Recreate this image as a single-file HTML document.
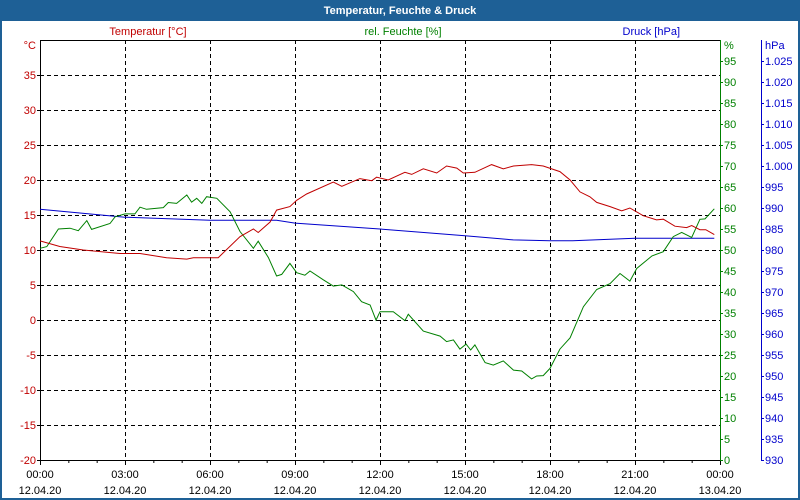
<!DOCTYPE html>
<html><head><meta charset="utf-8"><style>
html,body{margin:0;padding:0;background:#fff}
#wrap{position:relative;width:800px;height:500px;overflow:hidden;font-family:"Liberation Sans",sans-serif}
svg text{font-family:"Liberation Sans",sans-serif;font-size:11px}
</style></head><body>
<div id="wrap">
<svg id="chart" width="800" height="500"></svg>
</div>
<script>
const tempHours=[0,0.7,1.53,2.82,3.53,4.47,5.18,5.41,6.29,7.06,7.53,7.7,8.12,8.35,8.82,9.06,9.41,10.35,10.65,11.29,11.71,11.88,12.29,12.88,13.12,13.53,14,14.35,14.71,14.94,15.35,15.94,16.35,16.71,17.35,17.76,18.35,18.71,19.06,19.41,19.65,20.12,20.53,20.82,21.29,21.76,22,22.41,22.82,23,23.29,23.5,23.8];
const tempValues=[11.3,10.5,10,9.5,9.5,8.9,8.7,8.9,8.9,11.9,13,12.5,14,15.7,16.2,17.1,18,19.7,19.1,20.2,19.9,20.4,20,21.1,20.8,21.6,21,22,21.7,21,21.1,22.2,21.6,22,22.2,22,21.2,20,18.3,17.6,16.8,16.2,15.6,16,14.9,14.3,14.4,13.4,13.2,13.5,12.9,12.9,12.2];
const humHours=[0,0.24,0.65,1.06,1.35,1.65,1.82,2.47,2.65,3,3.35,3.53,3.76,4.35,4.53,4.82,5.18,5.35,5.53,5.71,5.88,6.24,6.71,7.06,7.53,7.7,8.06,8.35,8.53,8.82,9.06,9.35,9.53,10,10.35,10.65,11.06,11.35,11.65,11.86,12,12.47,12.88,13,13.53,14.12,14.35,14.59,14.82,15.04,15.2,15.35,15.71,16,16.35,16.71,17,17.35,17.53,17.76,18,18.35,18.71,19.18,19.65,20.12,20.47,20.82,21.06,21.6,22,22.35,22.65,23,23.29,23.47,23.8];
const humValues=[50.4,50.8,55,55.2,54.6,57,54.9,56.3,57.9,58.6,58.6,60.2,59.7,60.1,61.3,61.1,63.1,61.4,62.3,61.1,62.7,62.3,59.1,54.4,50.4,52.1,48.2,43.8,44.2,46.8,44.6,44,45,42.9,41.4,41.7,40.1,37.7,36.9,33.3,35.3,35.3,33.2,34.7,30.7,29.5,28.2,28.6,26.4,27.6,26.2,27.4,23.2,22.6,23.6,21.4,21.2,19.3,20,20.1,21.8,26.4,29.1,36.5,40.6,42,44.4,42.6,45.6,48.6,49.6,53.2,54.2,53,57.3,57.4,59.8];
const presHours=[0,3,6,8.35,9,12,15,16.7,18,18.8,21,23.8];
const presValues=[989.7,987.8,987.1,987.1,986.4,985,983.4,982.4,982.2,982.2,982.8,982.8];
const tempTicks=[35,30,25,20,15,10,5,0,-5,-10,-15,-20];
const humTicks=[95,90,85,80,75,70,65,60,55,50,45,40,35,30,25,20,15,10,5,0];
const presTicks=[1025,1020,1015,1010,1005,1000,995,990,985,980,975,970,965,960,955,950,945,940,935,930];
const timeLabels=["00:00","03:00","06:00","09:00","12:00","15:00","18:00","21:00","00:00"];
const dateLabels=["12.04.20","12.04.20","12.04.20","12.04.20","12.04.20","12.04.20","12.04.20","12.04.20","13.04.20"];

const L=40,R=720,T=40,B=460;
const xs=h=>L+(R-L)*h/24;
const yT=v=>B-(v+20)*(B-T)/60;
const yH=v=>B-v*(B-T)/100;
const yP=v=>B-(v-930)*(B-T)/100;
const svg=document.getElementById('chart');
const NS='http://www.w3.org/2000/svg';
function mk(tag,attrs,parent){const e=document.createElementNS(NS,tag);for(const k in attrs)e.setAttribute(k,attrs[k]);(parent||svg).appendChild(e);return e;}
function txt(x,y,s,fill,anchor,name,extra){const e=mk('text',Object.assign({x:x,y:y,fill:fill,'text-anchor':anchor||'start'},extra||{}));e.textContent=s;


return e;}

let fr=mk('rect',{x:0,y:0,width:800,height:500,fill:'#1e6096'});


let bg=mk('rect',{x:2,y:21,width:796,height:477,fill:'#fff'});


txt(400,14,'Temperatur, Feuchte & Druck','#fff','middle','chart-title',{'font-weight':'bold','font-size':'12.5px'});

for(let i=1;i<8;i++){let g=mk('line',{x1:xs(i*3)+.5,x2:xs(i*3)+.5,y1:T,y2:B,stroke:'#000','stroke-dasharray':'4,3'});

}
tempTicks.forEach(v=>{if(v>-20){let g=mk('line',{x1:L,x2:R,y1:Math.round(yT(v))+.5,y2:Math.round(yT(v))+.5,stroke:'#000','stroke-dasharray':'4,3'});

}});

let ax=mk('path',{d:`M${L+.5} ${T} V${B+.5} H${R} M${L} ${T+.5} H${R}`,stroke:'#000',fill:'none'});


for(let h=0;h<=24;h++){let t=mk('line',{x1:xs(h)+.5,x2:xs(h)+.5,y1:B,y2:B+(h%3?3:5),stroke:'#000'});

}
let ga=mk('line',{x1:R+.5,x2:R+.5,y1:T,y2:B+1,stroke:'#008000'});


let ba=mk('line',{x1:761.5,x2:761.5,y1:T,y2:B+1,stroke:'#0000cc'});



tempTicks.forEach(v=>{txt(36,yT(v)+4,String(v),'#c00000','end','temp-tick-label');mk('line',{x1:L-3,x2:L,y1:Math.round(yT(v))+.5,y2:Math.round(yT(v))+.5,stroke:'#000'});});
txt(36,49,'°C','#c00000','end','temp-unit');
humTicks.forEach(v=>{txt(724,yH(v)+4,String(v),'#008000','start','humidity-tick-label');mk('line',{x1:R,x2:R+3,y1:Math.round(yH(v))+.5,y2:Math.round(yH(v))+.5,stroke:'#008000'});});
txt(724,49,'%','#008000','start','humidity-unit');
presTicks.forEach(v=>{txt(765,yP(v)+4,v>=1000?(v/1000).toFixed(3):String(v),'#0000cc','start','pressure-tick-label');mk('line',{x1:761,x2:764,y1:Math.round(yP(v))+.5,y2:Math.round(yP(v))+.5,stroke:'#0000cc'});});
txt(765,49,'hPa','#0000cc','start','pressure-unit');
timeLabels.forEach((s,i)=>{txt(xs(i*3),478,s,'#000','middle','x-time-label');txt(xs(i*3),494,dateLabels[i],'#000','middle','x-date-label');});

txt(148,35,'Temperatur [°C]','#c00000','middle','temp-legend');
txt(403,35,'rel. Feuchte [%]','#008000','middle','humidity-legend');
txt(680,35,'Druck [hPa]','#0000cc','end','pressure-legend');

function line(hs,vs,yf,col,name){const d=hs.map((h,i)=>(i?'L':'M')+xs(h).toFixed(1)+' '+yf(vs[i]).toFixed(1)).join(' ');
const p=mk('path',{d:d,stroke:col,fill:'none','stroke-width':1});

}
line(presHours,presValues,yP,'#0000cc','pressure-line');
line(humHours,humValues,yH,'#008000','humidity-line');
line(tempHours,tempValues,yT,'#c00000','temperature-line');
</script>
</body></html>
